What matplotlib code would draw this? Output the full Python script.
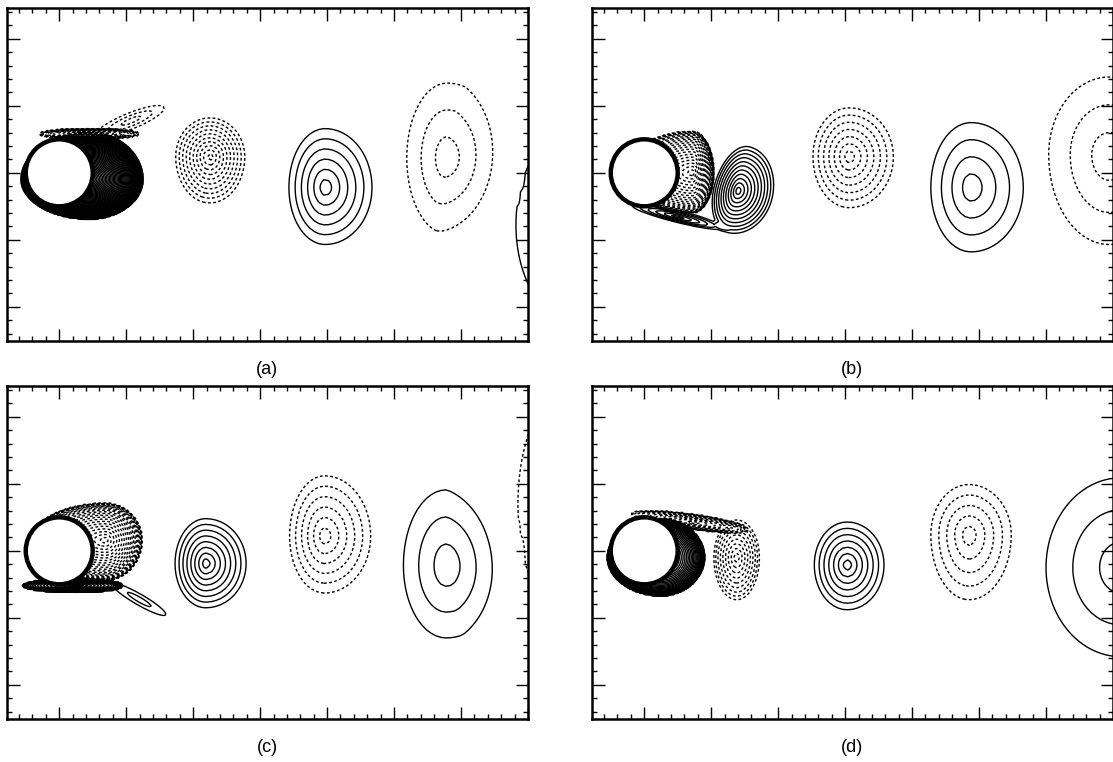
import numpy as np
import matplotlib
matplotlib.use("Agg")
import matplotlib.pyplot as plt
from matplotlib.patches import Circle
from matplotlib.ticker import MultipleLocator

# vorticity contours behind a cylinder (diameter 1, centred at 0,0), four instants
# each vortex: x, y, rings (sign: + solid / - dashed), outer ring extent
# left, right, down, up, tilt (deg), profile exponent
vort_a = [
    (0.45, -0.10, 55, 1.02, 0.80, 0.59, 0.70, 0, 0.6),
    (0.45, 0.58, -14, 0.75, 0.75, 0.08, 0.08, 0, 0.5),
    (1.08, 0.78, -3, 0.58, 0.52, 0.12, 0.12, 22, 1),
    (2.25, 0.24, -10, 0.51, 0.52, 0.69, 0.58, 0, 1),
    (3.97, -0.22, 6, 0.54, 0.70, 0.85, 0.88, 0, 1),
    (5.79, 0.22, -3, 0.60, 0.86, 1.13, 1.12, 0, 1),
    (7.78, -0.78, 1, 0.96, 0.96, 1.50, 1.50, 0, 1),
]
vort_b = [
    (0.72, 0.00, -22, 1.00, 0.32, 0.60, 0.62, 0, 0.5),
    (0.50, -0.66, 6, 0.70, 0.70, 0.08, 0.10, -14, 1),
    (1.40, -0.27, 11, 0.36, 0.52, 0.64, 0.68, -15, 0.9),
    (3.06, 0.24, -7, 0.54, 0.66, 0.76, 0.73, 0, 1),
    (4.88, -0.22, 4, 0.60, 0.78, 0.96, 0.97, 0, 1),
    (6.94, 0.27, -3, 0.90, 1.10, 1.34, 1.16, 0, 1),
]
vort_c = [
    (0.69, 0.16, -22, 1.10, 0.55, 0.60, 0.55, 0, 0.5),
    (0.25, -0.52, 20, 0.80, 0.70, 0.10, 0.10, 0, 0.5),
    (1.20, -0.73, 2, 0.48, 0.45, 0.08, 0.08, -30, 1),
    (2.19, -0.19, 8, 0.46, 0.60, 0.66, 0.67, 0, 1),
    (3.96, 0.22, -6, 0.52, 0.69, 0.85, 0.90, 0, 1),
    (5.78, -0.22, 3, 0.64, 0.86, 1.08, 1.13, 0, 1),
    (7.70, 0.70, -1, 0.85, 0.85, 1.80, 1.80, 0, 1),
]
vort_d = [
    (0.25, -0.10, 35, 0.80, 0.65, 0.57, 0.58, 0, 0.45),
    (0.75, 0.42, -12, 0.95, 0.80, 0.10, 0.12, -8, 0.5),
    (1.38, -0.10, -9, 0.34, 0.34, 0.63, 0.56, 0, 0.8),
    (3.03, -0.21, 7, 0.49, 0.55, 0.67, 0.64, 0, 1),
    (4.85, 0.24, -5, 0.57, 0.63, 0.97, 0.75, 0, 1),
    (7.12, -0.25, 3, 1.12, 1.10, 1.33, 1.34, 0, 1),
]
panels = [vort_a, vort_b, vort_c, vort_d]
labels = ['(a)', '(b)', '(c)', '(d)']


def field(X, Y, vorts):
    w = np.zeros_like(X)
    for xc, yc, n, l, r, d, u, tilt, p in vorts:
        amp = n + 0.8 * np.sign(n)
        k = 1 - abs(amp) ** (-1.0 / p)
        t = np.radians(tilt)
        dx, dy = X - xc, Y - yc
        s = dx * np.cos(t) + dy * np.sin(t)
        q = -dx * np.sin(t) + dy * np.cos(t)
        rs = np.where(s > 0, r, l) / k
        rq = np.where(q > 0, u, d) / k
        rho = np.hypot(s / rs, q / rq)
        w += amp * np.clip(1 - rho, 0, None) ** p
    return np.ma.masked_where(X**2 + Y**2 < 0.25, w)


x = np.concatenate([np.arange(-0.8, 2.2, 0.015), np.arange(2.2, 7.05, 0.07)])
y = np.arange(-2.52, 2.5, 0.02)
X, Y = np.meshgrid(x, y)
lev = np.arange(1, 70)

fig = plt.figure(figsize=(11.13, 7.62), dpi=100)
W, H = 1113, 762
boxes = [(7, 8), (592, 8), (7, 386), (592, 386)]

for (px, py), vorts, lab in zip(boxes, panels, labels):
    ax = fig.add_axes([px / W, 1 - (py + 333) / H, 521 / W, 333 / H])
    w = field(X, Y, vorts)
    ax.contour(X, Y, w, levels=lev, colors='k', linewidths=1.0)
    cn = ax.contour(X, Y, w, levels=-lev[::-1], colors='k', linewidths=1.0)
    cn.set_linestyle((0, (2.0, 1.7)))
    ax.add_patch(Circle((0, 0), 0.5, fc='white', ec='black', lw=3.2, zorder=3))
    ax.set_xlim(-0.78, 7.0)
    ax.set_ylim(-2.51, 2.46)
    ax.xaxis.set_major_locator(MultipleLocator(1))
    ax.xaxis.set_minor_locator(MultipleLocator(0.2))
    ax.yaxis.set_major_locator(MultipleLocator(1))
    ax.yaxis.set_minor_locator(MultipleLocator(0.2))
    ax.tick_params(which='both', direction='in', top=True, right=True,
                   labelbottom=False, labelleft=False, width=1.0, color='k')
    ax.tick_params(which='major', length=9)
    ax.tick_params(which='minor', length=3.5)
    for sp in ax.spines.values():
        sp.set_linewidth(1.8)
    fig.text((px + 260) / W, 1 - (py + 361) / H, lab, ha='center', va='center',
             fontsize=13, family='Liberation Sans')

fig.savefig('out.png', dpi=100)
